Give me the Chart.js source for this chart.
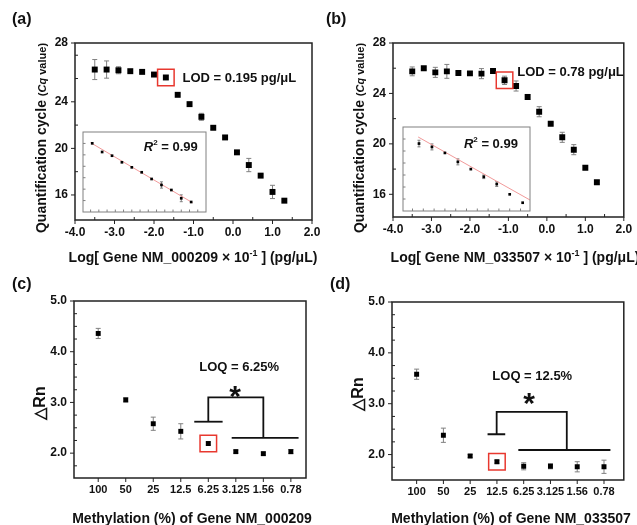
<!DOCTYPE html>
<html>
<head>
<meta charset="utf-8">
<script src="https://cdn.jsdelivr.net/npm/chart.js@4.4.1/dist/chart.umd.min.js"></script>
<style>
  body { margin: 0; background: #fff; }
  #wrap { position: relative; width: 637px; height: 525px; overflow: hidden; }
  canvas { position: absolute; left: 0; top: 0; }
</style>
</head>
<body>
<div id="wrap">
  <canvas id="chartA" width="637" height="525"></canvas>
  <canvas id="chartB" width="637" height="525"></canvas>
  <canvas id="chartC" width="637" height="525"></canvas>
  <canvas id="chartD" width="637" height="525"></canvas>
  <canvas id="insetA" width="637" height="525"></canvas>
  <canvas id="insetB" width="637" height="525"></canvas>
</div>
<script>
const W = 637, H = 525;
const SANS = "'Liberation Sans', Arial, sans-serif";

// (a) and (b): Cq vs log concentration
const logConc = [-3.5, -3.2, -2.9, -2.6, -2.3, -2.0, -1.7, -1.4, -1.1, -0.8, -0.5, -0.2, 0.1, 0.4, 0.7, 1.0, 1.3];
const cqA    = [26.77, 26.77, 26.71, 26.63, 26.57, 26.34, 26.09, 24.6, 23.8, 22.71, 21.77, 20.94, 19.66, 18.57, 17.66, 16.26, 15.51];
const cqAErr = [0.86, 0.74, 0.3, 0.1, 0.1, 0.1, 0.15, 0.1, 0.15, 0.3, 0.15, 0.15, 0.1, 0.57, 0.1, 0.57, 0.1];
const cqB    = [25.75, 25.99, 25.67, 25.75, 25.62, 25.59, 25.57, 25.78, 25.04, 24.59, 23.72, 22.55, 21.6, 20.52, 19.54, 18.11, 16.95];
const cqBErr = [0.35, 0.1, 0.4, 0.55, 0.1, 0.15, 0.4, 0.1, 0.33, 0.4, 0.2, 0.4, 0.1, 0.4, 0.4, 0.15, 0.15];

// insets: linear range
const linXA   = [-1.7, -1.4, -1.1, -0.8, -0.5, -0.2, 0.1, 0.4, 0.7, 1.0, 1.3];
const linYA   = [26.02, 24.5, 23.85, 22.7, 21.82, 20.95, 19.78, 18.73, 17.85, 16.4, 15.75];
const linErrA = [0, 0, 0, 0, 0, 0, 0, 0.55, 0, 0.6, 0];
const fitXA = [-1.75, 1.34], fitYA = [26.13, 15.63];
const linXB   = [-1.1, -0.8, -0.5, -0.2, 0.1, 0.4, 0.7, 1.0, 1.3];
const linYB   = [25.24, 24.68, 23.68, 22.19, 20.98, 19.7, 18.49, 16.78, 15.38];
const linErrB = [0.55, 0.5, 0, 0.5, 0, 0.3, 0.4, 0, 0];
const fitXB = [-1.12, 1.47], fitYB = [26.34, 15.83];

// (c) and (d): delta Rn vs methylation
const methLabels = ['100', '50', '25', '12.5', '6.25', '3.125', '1.56', '0.78'];
const methPos = [1, 2, 3, 4, 5, 6, 7, 8];
const rnC    = [4.36, 3.05, 2.58, 2.43, 2.19, 2.03, 1.99, 2.03];
const rnCErr = [0.1, 0.04, 0.13, 0.15, 0.03, 0.03, 0.03, 0.04];
const rnD    = [3.58, 2.38, 1.97, 1.86, 1.77, 1.77, 1.76, 1.76];
const rnDErr = [0.1, 0.14, 0.03, 0.03, 0.07, 0.05, 0.1, 0.13];

const logTicks = [-4, -3, -2, -1, 0, 1, 2];
const cqTicks = [16, 20, 24, 28];
const rnTicks = [2, 3, 4, 5];

// boxed points (LOD / LOQ)
const lodA = 6, lodB = 8, loqC = 4, loqD = 3;

// significance brackets, data units
const bracketC = [
  [[4.49, 2.62], [5.52, 2.62]],
  [[5.0, 2.62], [5.0, 3.10], [7.0, 3.10], [7.0, 2.30]],
  [[5.85, 2.30], [8.28, 2.30]]
];
const bracketD = [
  [[3.65, 2.40], [4.31, 2.40]],
  [[3.99, 2.40], [3.99, 2.84], [6.61, 2.84], [6.61, 2.09]],
  [[4.80, 2.09], [8.24, 2.09]]
];

const F = (size, style) => `${style || ''} bold ${size}px ${SANS}`;
const steps = (a, b, s) => { const out = []; for (let v = a; v <= b + 1e-9; v += s) out.push(+v.toFixed(4)); return out; };
const pts = (xs, ys) => xs.map((x, i) => ({ x, y: ys[i] }));

function markers(xs, ys, errs, r) {
  return { data: pts(xs, ys), errors: errs, pointStyle: 'rect', pointRadius: r,
           backgroundColor: '#000', borderColor: '#000', borderWidth: 0 };
}
function redBox(x, y) {
  return { data: [{ x, y }], pointStyle: 'rect', pointRadius: 11.7,
           backgroundColor: 'rgba(0,0,0,0)', borderColor: '#e8382f', borderWidth: 1.5 };
}
function lines(segs, color, width) {
  return segs.map(s => ({ data: s.map(([x, y]) => ({ x, y })), showLine: true, pointRadius: 0,
                          borderColor: color, borderWidth: width, fill: false }));
}

// frame, tick marks, error bars, texts
function decor(cfg) {
  return {
    id: 'decor',
    beforeDatasetsDraw(chart) {
      const { ctx, chartArea: A, scales: { y: sy } } = chart;
      ctx.save();
      if (cfg.fill) { ctx.fillStyle = cfg.fill; ctx.fillRect(A.left, A.top, A.right - A.left, A.bottom - A.top); }
      ctx.strokeStyle = '#808080'; ctx.lineWidth = 1;
      chart.data.datasets.forEach((ds, i) => {
        if (!ds.errors) return;
        chart.getDatasetMeta(i).data.forEach((pt, j) => {
          const e = ds.errors[j]; if (!e) return;
          const v = ds.data[j].y;
          const y1 = sy.getPixelForValue(v - e), y2 = sy.getPixelForValue(v + e), c = cfg.cap;
          ctx.beginPath();
          ctx.moveTo(pt.x, y1); ctx.lineTo(pt.x, y2);
          ctx.moveTo(pt.x - c, y1); ctx.lineTo(pt.x + c, y1);
          ctx.moveTo(pt.x - c, y2); ctx.lineTo(pt.x + c, y2);
          ctx.stroke();
        });
      });
      ctx.restore();
    },
    afterDraw(chart) {
      const { ctx, chartArea: A, scales: { x: sx, y: sy } } = chart;
      ctx.save();
      ctx.strokeStyle = cfg.frame; ctx.lineWidth = cfg.frameWidth;
      ctx.strokeRect(A.left, A.top, A.right - A.left, A.bottom - A.top);
      ctx.lineWidth = 1;
      ctx.beginPath();
      const xm = (vals, len) => vals.forEach(v => { const p = sx.getPixelForValue(v); ctx.moveTo(p, A.bottom); ctx.lineTo(p, A.bottom + len); });
      const ym = (vals, len) => vals.forEach(v => { const p = sy.getPixelForValue(v); ctx.moveTo(A.left, p); ctx.lineTo(A.left - len, p); });
      xm(cfg.xMajor || [], cfg.majorLen); xm(cfg.xMinor || [], cfg.minorLen);
      ym(cfg.yMajor || [], cfg.majorLen); ym(cfg.yMinor || [], cfg.minorLen);
      ctx.stroke();
      (cfg.texts || []).forEach(t => {
        const x = t.at ? sx.getPixelForValue(t.at[0]) : t.px[0];
        const y = t.at ? sy.getPixelForValue(t.at[1]) : t.px[1];
        ctx.save();
        ctx.fillStyle = '#111'; ctx.textAlign = 'left'; ctx.textBaseline = 'alphabetic';
        ctx.translate(x, y);
        if (t.rot) ctx.rotate(-Math.PI / 2);
        let w = 0;
        t.parts.forEach(p => { ctx.font = p.font; w += ctx.measureText(p.text).width; });
        let cx = t.align === 'center' ? -w / 2 : t.align === 'right' ? -w : 0;
        t.parts.forEach(p => { ctx.font = p.font; ctx.fillText(p.text, cx, p.dy || 0); cx += ctx.measureText(p.text).width; });
        ctx.restore();
      });
      ctx.restore();
    }
  };
}

function mainChart(id, p) {
  const A = p.area;
  return new Chart(document.getElementById(id), {
    type: 'scatter',
    data: { datasets: p.datasets },
    options: {
      responsive: false, animation: false, events: [],
      layout: { padding: { left: 0, top: A.top, right: W - A.right, bottom: H - A.bottom - 30 } },
      plugins: { legend: { display: false }, tooltip: { enabled: false } },
      scales: {
        x: {
          type: 'linear', min: p.xMin, max: p.xMax,
          grid: { display: false, drawTicks: false }, border: { display: false },
          afterBuildTicks: s => { s.ticks = p.xTicks.map(v => ({ value: v })); },
          afterFit: s => { s.height = 30; s.paddingLeft = 0; s.paddingRight = 0; },
          ticks: { autoSkip: false, maxRotation: 0, padding: 5, color: '#111',
                   font: { family: SANS, size: p.xTickSize || 12, weight: 'bold' }, callback: p.xLabel }
        },
        y: {
          type: 'linear', min: p.yMin, max: p.yMax,
          grid: { display: false, drawTicks: false }, border: { display: false },
          // the source prints its top label on the upper frame edge
          afterBuildTicks: s => { s.ticks = p.yTicks.map((v, i) => ({ value: p.topLabelAtMax && i === p.yTicks.length - 1 ? s.max : v })); },
          afterFit: s => { s.width = A.left; s.paddingTop = 0; s.paddingBottom = 0; },
          ticks: { autoSkip: false, padding: 7, color: '#111',
                   font: { family: SANS, size: 12, weight: 'bold' }, callback: p.yLabel }
        }
      }
    },
    plugins: [decor(p.decor)]
  });
}

function insetChart(id, p) {
  const A = p.area;
  return new Chart(document.getElementById(id), {
    type: 'scatter',
    data: { datasets: p.datasets },
    options: {
      responsive: false, animation: false, events: [],
      layout: { padding: { left: A.left, top: A.top, right: W - A.right, bottom: H - A.bottom } },
      plugins: { legend: { display: false }, tooltip: { enabled: false } },
      scales: {
        x: { type: 'linear', display: false, min: p.xMin, max: p.xMax },
        y: { type: 'linear', display: false, min: 14, max: 28 }
      }
    },
    plugins: [decor(p.decor)]
  });
}

const cqTitle = x => ({ px: [x, 138], rot: true, align: 'center', parts: [
  { text: 'Quantification cycle ', font: F(14) }, { text: '(', font: F(11) },
  { text: 'Cq', font: F(11, 'italic') }, { text: ' value)', font: F(11) }] });
const logTitle = (x, gene) => ({ px: [x, 262], align: 'center', parts: [
  { text: 'Log[ Gene ' + gene + ' × 10', font: F(14) }, { text: '-1', font: F(9), dy: -6 },
  { text: ' ] (pg/μL)', font: F(14) }] });
const r2Text = (x, y) => ({ at: [x, y], align: 'right', parts: [
  { text: 'R', font: F(13, 'italic') }, { text: '2', font: F(8), dy: -6 }, { text: ' = 0.99', font: F(13) }] });

const cqMinor = steps(16, 28, 2).filter(v => v % 4 !== 0);

// (a)
mainChart('chartA', {
  area: { left: 75, top: 43, right: 312, bottom: 220 },
  xMin: -4, xMax: 2, yMin: 13.85, yMax: 29.05,
  xTicks: logTicks, yTicks: cqTicks, topLabelAtMax: true,
  xLabel: v => v.toFixed(1), yLabel: (v, i) => cqTicks[i],
  datasets: [redBox(logConc[lodA], cqA[lodA]), markers(logConc, cqA, cqAErr, 4.2)],
  decor: {
    frame: '#222', frameWidth: 1.5, cap: 2.5, majorLen: 4, minorLen: -3,
    xMajor: logTicks, xMinor: steps(-3.5, 1.5, 1), yMajor: [16, 20, 24, 29.05], yMinor: cqMinor.concat([28]),
    texts: [
      { px: [12, 24], parts: [{ text: '(a)', font: F(16) }] },
      logTitle(193, 'NM_000209'), cqTitle(46),
      { at: [-1.28, 25.66], parts: [{ text: 'LOD = 0.195 pg/μL', font: F(13) }] }
    ]
  }
});

// (b)
mainChart('chartB', {
  area: { left: 393, top: 43, right: 628, bottom: 217 },
  xMin: -4, xMax: 2, yMin: 14.2, yMax: 28,
  xTicks: logTicks, yTicks: cqTicks,
  xLabel: v => v.toFixed(1), yLabel: (v, i) => cqTicks[i],
  datasets: [redBox(logConc[lodB], cqB[lodB]), markers(logConc, cqB, cqBErr, 4.2)],
  decor: {
    frame: '#222', frameWidth: 1.5, cap: 2.5, majorLen: 4, minorLen: -3,
    xMajor: logTicks, xMinor: steps(-3.5, 1.5, 1), yMajor: cqTicks, yMinor: cqMinor,
    texts: [
      { px: [326, 24], parts: [{ text: '(b)', font: F(16) }] },
      logTitle(515, 'NM_033507'), cqTitle(364),
      { at: [-0.77, 25.42], parts: [{ text: 'LOD = 0.78 pg/μL', font: F(13) }] }
    ]
  }
});

// (c)
mainChart('chartC', {
  area: { left: 74, top: 301, right: 306, bottom: 478 },
  xMin: 0.12, xMax: 8.55, yMin: 1.51, yMax: 5, xTickSize: 11,
  xTicks: methPos, yTicks: rnTicks,
  xLabel: (v, i) => methLabels[i], yLabel: v => v.toFixed(1),
  datasets: [redBox(methPos[loqC], rnC[loqC]), markers(methPos, rnC, rnCErr, 3.5)].concat(lines(bracketC, '#111', 1.8)),
  decor: {
    frame: '#222', frameWidth: 1.5, cap: 2.5, majorLen: 4, minorLen: -3,
    xMajor: methPos, yMajor: rnTicks, yMinor: steps(1.75, 4.75, 0.25).filter(v => v % 1 !== 0),
    texts: [
      { px: [12, 289], parts: [{ text: '(c)', font: F(16) }] },
      { px: [192, 523], align: 'center', parts: [{ text: 'Methylation (%) of Gene NM_000209', font: F(14) }] },
      { px: [45, 403], rot: true, align: 'center', parts: [{ text: '△Rn', font: F(16) }] },
      { at: [6.12, 3.62], align: 'center', parts: [{ text: 'LOQ = 6.25%', font: F(13) }] },
      { at: [5.97, 2.93], align: 'center', parts: [{ text: '*', font: F(30) }] }
    ]
  }
});

// (d)
mainChart('chartD', {
  area: { left: 392, top: 302, right: 631, bottom: 480 },
  xMin: 0.08, xMax: 8.74, yMin: 1.5, yMax: 5, xTickSize: 11,
  xTicks: methPos, yTicks: rnTicks,
  xLabel: (v, i) => methLabels[i], yLabel: v => v.toFixed(1),
  datasets: [redBox(methPos[loqD], rnD[loqD]), markers(methPos, rnD, rnDErr, 3.5)].concat(lines(bracketD, '#111', 1.8)),
  decor: {
    frame: '#222', frameWidth: 1.5, cap: 2.5, majorLen: 4, minorLen: -3,
    xMajor: methPos, yMajor: rnTicks, yMinor: steps(1.75, 4.75, 0.25).filter(v => v % 1 !== 0),
    texts: [
      { px: [330, 289], parts: [{ text: '(d)', font: F(16) }] },
      { px: [511, 523], align: 'center', parts: [{ text: 'Methylation (%) of Gene NM_033507', font: F(14) }] },
      { px: [363, 394], rot: true, align: 'center', parts: [{ text: '△Rn', font: F(16) }] },
      { at: [5.32, 3.46], align: 'center', parts: [{ text: 'LOQ = 12.5%', font: F(13) }] },
      { at: [5.2, 2.82], align: 'center', parts: [{ text: '*', font: F(30) }] }
    ]
  }
});

// insets
insetChart('insetA', {
  area: { left: 83, top: 132, right: 206, bottom: 212 },
  xMin: -1.98, xMax: 1.75,
  datasets: [markers(linXA, linYA, linErrA, 1.9)].concat(lines([pts(fitXA, fitYA).map(p => [p.x, p.y])], '#f29a9a', 1)),
  decor: {
    fill: '#fff', frame: '#808080', frameWidth: 1, cap: 1.5, majorLen: -2.5, minorLen: -2.5,
    xMajor: steps(-1.75, 1.5, 0.25), yMajor: steps(16, 26, 2),
    texts: [r2Text(1.5, 24.76)]
  }
});

insetChart('insetB', {
  area: { left: 403, top: 127, right: 530, bottom: 211 },
  xMin: -1.47, xMax: 1.47,
  datasets: [markers(linXB, linYB, linErrB, 1.9)].concat(lines([pts(fitXB, fitYB).map(p => [p.x, p.y])], '#f29a9a', 1)),
  decor: {
    fill: '#fff', frame: '#808080', frameWidth: 1, cap: 1.5, majorLen: -2.5, minorLen: -2.5,
    xMajor: steps(-1.25, 1.25, 0.25), yMajor: steps(16, 26, 2),
    texts: [r2Text(1.19, 24.43)]
  }
});
</script>
</body>
</html>
